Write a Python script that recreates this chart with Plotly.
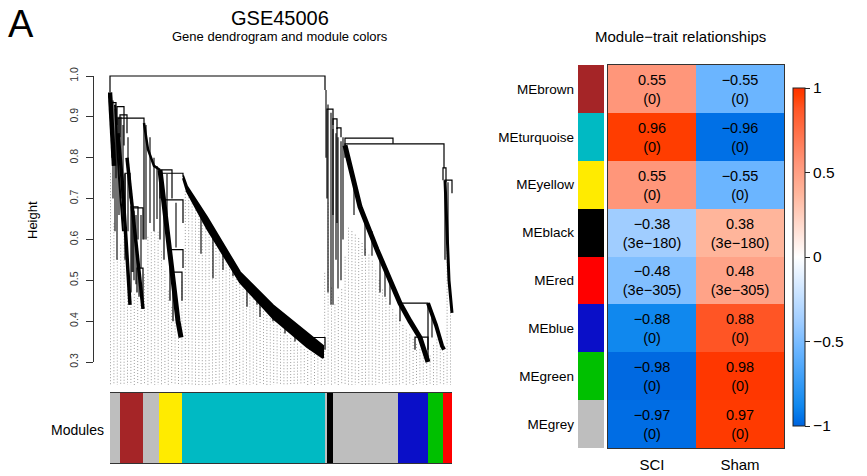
import numpy as np
import plotly.graph_objects as go

# ---------------- data ----------------
# Dendrogram merges (leaf position, height): left x, right x, merge height, left child height, right child height
link_xl = [0, 2, 7, 8, 10, 15, 21, 23, 27, 50, 50, 54, 60, 63, 197, 217, 223, 227, 235, 235, 333, 335, 290, 305]
link_xr = [215, 6, 14, 34, 17, 20, 28, 33, 33, 73, 62, 73, 73, 72, 215, 223, 227, 231, 283, 334, 336, 342, 318, 318]
link_h = [1.00, 0.935, 0.925, 0.897, 0.905, 0.762, 0.68, 0.677, 0.53, 0.762, 0.77, 0.697, 0.575, 0.52, 0.36,
          0.919, 0.895, 0.873, 0.848, 0.834, 0.775, 0.745, 0.444, 0.361]
link_hl = [0.96, 0.80, 0.88, 0.86, 0.85, 0.63, 0.47, 0.52, 0.47, 0.70, 0.60, 0.55, 0.45, 0.40, 0.34,
           0.70, 0.66, 0.64, 0.82, 0.80, 0.745, 0.55, 0.40, 0.33]
link_hr = [0.966, 0.90, 0.83, 0.60, 0.86, 0.70, 0.60, 0.60, 0.43, 0.757, 0.70, 0.64, 0.53, 0.45, 0.33,
           0.88, 0.87, 0.85, 0.834, 0.775, 0.74, 0.713, 0.33, 0.31]

# Turquoise module bundle: leaf position, upper and lower edge heights
turq_x = [73, 77, 97, 130, 163, 197, 213]
turq_top = [0.757, 0.73, 0.655, 0.52, 0.439, 0.373, 0.34]
turq_bot = [0.75, 0.717, 0.627, 0.495, 0.407, 0.337, 0.31]

# Other dense branch bundles (leaf position, height)
yel_x = [50, 56, 62, 68, 71]
yel_h = [0.77, 0.64, 0.52, 0.40, 0.36]
grey_x = [34, 38, 44, 50]
grey_h = [0.885, 0.82, 0.78, 0.77]
brown1_x = [8, 12, 16, 20]
brown1_h = [0.86, 0.75, 0.60, 0.44]
brown2_x = [17, 25, 33]
brown2_h = [0.80, 0.62, 0.43]
brown3_x = [5, 9, 13]
brown3_h = [0.93, 0.75, 0.62]
left_x = [0, 2, 4]
left_h = [0.96, 0.88, 0.78]
blue_x = [235, 240, 250, 267, 280, 290, 300, 310, 318]
blue_h = [0.83, 0.78, 0.68, 0.575, 0.50, 0.444, 0.40, 0.36, 0.30]
green_x = [318, 326, 332, 334]
green_h = [0.444, 0.39, 0.34, 0.33]
red_x = [335, 337, 339, 342]
red_h = [0.745, 0.62, 0.50, 0.42]

# Single hanging branches: leaf position, top height, bottom height
spike_x = [91, 103, 113, 123, 137, 147, 163, 185, 200, 36, 40, 44, 47, 7, 5, 223, 228, 231, 255, 270, 275,
           280, 11, 18, 26, 31, 57, 66, 226, 244, 262, 322, 338,
           3, 6, 9, 13, 15, 22, 24, 29, 216, 218, 221, 233, 150, 175]
spike_top = [0.67, 0.62, 0.59, 0.55, 0.50, 0.47, 0.43, 0.38, 0.355, 0.88, 0.85, 0.80, 0.78, 0.90, 0.92,
             0.87, 0.85, 0.84, 0.64, 0.56, 0.53, 0.50, 0.90, 0.85, 0.66, 0.66, 0.76, 0.69, 0.86, 0.74,
             0.62, 0.42, 0.74,
             0.94, 0.92, 0.90, 0.88, 0.76, 0.68, 0.67, 0.53, 0.966, 0.93, 0.91, 0.85, 0.46, 0.40]
spike_bot = [0.565, 0.505, 0.525, 0.51, 0.435, 0.44, 0.40, 0.35, 0.33, 0.60, 0.64, 0.62, 0.65, 0.55, 0.62,
             0.44, 0.48, 0.50, 0.56, 0.47, 0.46, 0.44, 0.70, 0.62, 0.49, 0.53, 0.66, 0.58, 0.55, 0.66,
             0.56, 0.36, 0.56,
             0.70, 0.75, 0.66, 0.65, 0.55, 0.52, 0.50, 0.46, 0.80, 0.47, 0.44, 0.60, 0.41, 0.37]

# Leaf heights (lower envelope of the tree) where the dotted leaf lines start
leaf_env_x = [0, 5, 7, 14, 19, 25, 33, 36, 42, 48, 53, 60, 70, 75, 95, 115, 135, 155, 175, 195, 213,
              217, 220, 225, 232, 238, 250, 262, 275, 290, 305, 318, 326, 334, 337, 340, 342]
leaf_env_h = [0.78, 0.60, 0.55, 0.62, 0.44, 0.47, 0.43, 0.60, 0.62, 0.62, 0.55, 0.45, 0.36, 0.72, 0.63,
              0.55, 0.48, 0.42, 0.37, 0.33, 0.31, 0.80, 0.50, 0.44, 0.48, 0.63, 0.60, 0.55, 0.46, 0.40,
              0.35, 0.30, 0.36, 0.32, 0.60, 0.50, 0.42]

# Module colour strip (leaf-position boundaries)
module_bounds = [0, 10, 33, 49, 72, 215, 216.5, 223, 288, 318, 333, 342]
module_strip_colors = ["#BEBEBE", "#A52527", "#BEBEBE", "#FFEB00", "#00BAC3", "#BEBEBE", "#000000",
                       "#BEBEBE", "#0A0FC8", "#00C000", "#FF0000"]

height_ticks = [0.3, 0.4, 0.5, 0.6, 0.7, 0.8, 0.9, 1.0]
height_tick_labels = ["0.3", "0.4", "0.5", "0.6", "0.7", "0.8", "0.9", "1.0"]

# Module-trait relationships
modules = ["MEbrown", "MEturquoise", "MEyellow", "MEblack", "MEred", "MEblue", "MEgreen", "MEgrey"]
module_colors = ["#A52527", "#00BAC3", "#FFEB00", "#000000", "#FF0000", "#0A0FC8", "#00C000", "#BEBEBE"]
traits = ["SCI", "Sham"]
cor_sci = [0.55, 0.96, 0.55, -0.38, -0.48, -0.88, -0.98, -0.97]
cor_sham = [-0.55, -0.96, -0.55, 0.38, 0.48, 0.88, 0.98, 0.97]
p_sci = ["0", "0", "0", "3e−180", "3e−305", "0", "0", "0"]
p_sham = ["0", "0", "0", "3e−180", "3e−305", "0", "0", "0"]
cbar_ticks = [-1, -0.5, 0, 0.5, 1]
cbar_labels = ["−1", "−0.5", "0", "0.5", "1"]

# ---------------- figure ----------------
W, H = 867, 476
FONT = "Liberation Sans, Arial, sans-serif"
def px(x):
    return x / W
def py(y):
    return 1 - y / H

fig = go.Figure()

# dotted leaf lines
dot_x, dot_y = [], []
y_bottom = 0.2437
for x in np.arange(0.5, 342, 3.4):
    top = float(np.interp(x, leaf_env_x, leaf_env_h))
    dot_x += [x, x, None]
    dot_y += [top, y_bottom, None]
fig.add_trace(go.Scatter(x=dot_x, y=dot_y, mode="lines", xaxis="x", yaxis="y5",
                         line=dict(color="#8F8F8F", width=0.9, dash="1px,2px"), hoverinfo="skip"))

# merges
lx, ly = [], []
for xl, xr, h, hl, hr in zip(link_xl, link_xr, link_h, link_hl, link_hr):
    lx += [xl, xl, xr, xr, None]
    ly += [hl, h, h, hr, None]
fig.add_trace(go.Scatter(x=lx, y=ly, mode="lines", xaxis="x", yaxis="y5",
                         line=dict(color="black", width=1.2), hoverinfo="skip"))

# spikes
sx, sy = [], []
for x, t, b in zip(spike_x, spike_top, spike_bot):
    sx += [x, x, None]
    sy += [t, b, None]
fig.add_trace(go.Scatter(x=sx, y=sy, mode="lines", xaxis="x", yaxis="y5",
                         line=dict(color="black", width=1.1), hoverinfo="skip"))

# turquoise bundle as a filled band
fig.add_trace(go.Scatter(x=turq_x + turq_x[::-1], y=turq_top + turq_bot[::-1], mode="lines",
                         fill="toself", fillcolor="black", xaxis="x", yaxis="y5",
                         line=dict(color="black", width=2), hoverinfo="skip"))

# dense bundles
for bx, bh, w in [(yel_x, yel_h, 5), (grey_x, grey_h, 2.5),
                  (brown1_x, brown1_h, 3.5), (brown2_x, brown2_h, 3.5), (brown3_x, brown3_h, 2),
                  (left_x, left_h, 4.5), (blue_x, blue_h, 5), (green_x, green_h, 4),
                  (red_x, red_h, 3)]:
    fig.add_trace(go.Scatter(x=bx, y=bh, mode="lines", xaxis="x", yaxis="y5",
                             line=dict(color="black", width=w), hoverinfo="skip"))

# dummy for the visible height axis
fig.add_trace(go.Scatter(x=[-1], y=[0.5], mode="markers", marker=dict(opacity=0),
                         xaxis="x", yaxis="y", hoverinfo="skip"))

# module strip
mb = np.array(module_bounds, dtype=float)
fig.add_trace(go.Bar(x=(mb[:-1] + mb[1:]) / 2, y=[1] * (len(mb) - 1), width=np.diff(mb),
                     marker=dict(color=module_strip_colors, line=dict(width=0)),
                     xaxis="x4", yaxis="y4", hoverinfo="skip"))

# side colour strip for heatmap
fig.add_trace(go.Bar(x=[1] * len(modules), y=modules, orientation="h",
                     marker=dict(color=module_colors, line=dict(width=0)),
                     xaxis="x3", yaxis="y3", hoverinfo="skip"))

# heatmap
z = [[a, b] for a, b in zip(cor_sci, cor_sham)]
def fmt(v):
    return f"{v:.2f}".replace("-", "−")
text = [[f"{fmt(a)}<br>({pa})", f"{fmt(b)}<br>({pb})"]
        for a, b, pa, pb in zip(cor_sci, cor_sham, p_sci, p_sham)]
colorscale = [[0.0, "#0062DC"], [0.02, "#0070E6"], [0.06, "#1088EE"], [0.225, "#6BB5FF"],
              [0.31, "#A0CDFF"], [0.5, "#FFFFFF"], [0.69, "#FFB59B"], [0.775, "#FF967A"],
              [0.94, "#FF5525"], [0.98, "#FF3D00"], [1.0, "#FF3000"]]
fig.add_trace(go.Heatmap(z=z, x=traits, y=modules, text=text, texttemplate="%{text}",
                         textfont=dict(size=14.5, color="black", family=FONT),
                         colorscale=colorscale, zmin=-1, zmax=1, xaxis="x2", yaxis="y2",
                         hoverinfo="skip",
                         colorbar=dict(x=px(793), xanchor="left", y=py(257), yanchor="middle",
                                       len=338 / H, lenmode="fraction", thickness=12,
                                       xpad=0, ypad=0,
                                       outlinecolor="#222", outlinewidth=1,
                                       ticks="outside", ticklen=5, tickcolor="#222",
                                       tickvals=cbar_ticks, ticktext=cbar_labels,
                                       tickfont=dict(size=15.5, color="black", family=FONT))))

ann = [
    dict(text="A", x=px(6), y=py(24), xanchor="left", yanchor="middle", font=dict(size=38)),
    dict(text="GSE45006", x=px(280), y=py(18), xanchor="center", yanchor="middle", font=dict(size=20)),
    dict(text="Gene dendrogram and module colors", x=px(280), y=py(37), xanchor="center",
         yanchor="middle", font=dict(size=13)),
    dict(text="Module−trait relationships", x=px(680), y=py(37), xanchor="center", yanchor="middle",
         font=dict(size=15)),
    dict(text="Height", x=px(32), y=py(220), xanchor="center", yanchor="middle", textangle=-90,
         font=dict(size=13)),
    dict(text="Modules", x=px(106), y=py(430), xanchor="right", yanchor="middle", font=dict(size=14)),
]
for a in ann:
    a.update(xref="paper", yref="paper", showarrow=False)
    a["font"].update(color="black", family=FONT)

fig.update_layout(
    width=W, height=H, margin=dict(l=0, r=0, t=0, b=0, pad=0, autoexpand=False), autosize=False,
    paper_bgcolor="white", plot_bgcolor="rgba(0,0,0,0)", showlegend=False, bargap=0,
    font=dict(family=FONT, color="black"),
    annotations=ann,
    xaxis=dict(domain=[px(108), px(454)], range=[-2, 344], visible=False, anchor="y5", automargin=False),
    yaxis5=dict(domain=[py(388), py(70)], range=[0.23636, 1.01469], visible=False, anchor="x",
                automargin=False),
    yaxis=dict(domain=[py(362), py(76)], range=[0.3, 1.0], anchor="free", position=px(93), side="left",
               showline=True, linecolor="#333", linewidth=1, ticks="outside", ticklen=7, tickcolor="#333",
               tickvals=height_ticks, ticktext=height_tick_labels, tickangle=-90, automargin=False,
               tickfont=dict(size=10.5, color="#333"), showgrid=False, zeroline=False,
               ticklabelstandoff=4),
    xaxis4=dict(domain=[px(110), px(452)], range=[0, 342], anchor="y4", showline=True, mirror=True,
                linecolor="#333", linewidth=1.2, showticklabels=False, ticks="", showgrid=False,
                zeroline=False, automargin=False),
    yaxis4=dict(domain=[py(463), py(393)], range=[0, 1], anchor="x4", visible=False, automargin=False),
    xaxis3=dict(domain=[px(578), px(604)], range=[0, 1], anchor="y3", visible=False, automargin=False),
    yaxis3=dict(domain=[py(448), py(65)], anchor="x3", autorange="reversed", ticks="", showline=False,
                showgrid=False, tickfont=dict(size=13.5, color="black"), ticklabelstandoff=3,
                automargin=False),
    xaxis2=dict(domain=[px(608), px(784)], anchor="y2", showline=True, mirror=True, linecolor="#333",
                linewidth=1, ticks="", tickfont=dict(size=15, color="black"), ticklabelstandoff=3,
                showgrid=False, automargin=False),
    yaxis2=dict(domain=[py(448), py(65)], anchor="x2", autorange="reversed", showline=True, mirror=True,
                linecolor="#333", linewidth=1, showticklabels=False, ticks="", showgrid=False,
                automargin=False),
)

fig.write_html("out.html", config={"displayModeBar": False},
               post_script="document.body.style.margin='0';document.body.style.overflow='hidden';")
